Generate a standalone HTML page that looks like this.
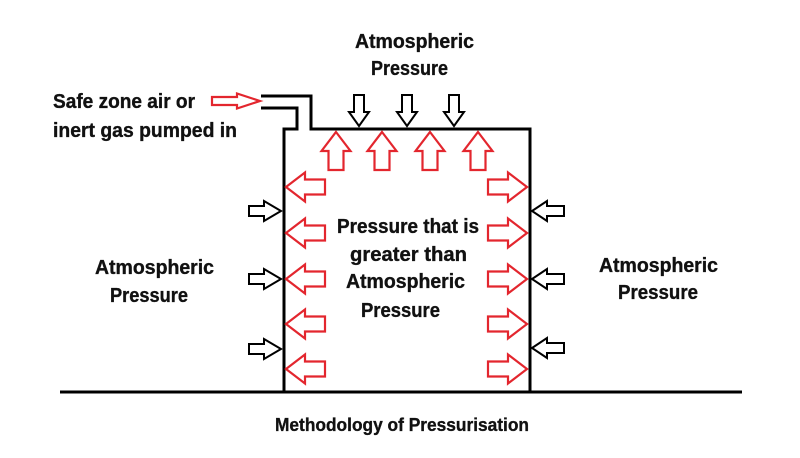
<!DOCTYPE html>
<html>
<head>
<meta charset="utf-8">
<style>
  html, body { margin: 0; padding: 0; background: #ffffff; }
  svg { display: block; }
  text { font-family: "Liberation Sans", Arial, sans-serif; font-weight: bold; fill: #111; stroke: #111; stroke-width: 0.35px; font-size: 20px; }
</style>
</head>
<body>
<svg width="800" height="458" viewBox="0 0 800 458" xmlns="http://www.w3.org/2000/svg">
  <rect width="800" height="458" fill="#fff"/>

  <!-- Structure -->
  <g fill="none" stroke="#000" stroke-width="3" stroke-linejoin="miter">
    <path d="M261,96 H311 V129 H530 V392"/>
    <path d="M261,108 H297 V129 H284 V392"/>
    <path d="M60,392 H742"/>
  </g>

  <!-- Red arrows -->
  <g fill="#fff" stroke="#e3262e" stroke-width="2.2" stroke-linejoin="miter">
    <polygon points="336,132 350.5,151 343.5,151 343.5,170 328.5,170 328.5,151 321.5,151"/>
    <polygon points="382,132 396.5,151 389.5,151 389.5,170 374.5,170 374.5,151 367.5,151"/>
    <polygon points="430,132 444.5,151 437.5,151 437.5,170 422.5,170 422.5,151 415.5,151"/>
    <polygon points="478,132 492.5,151 485.5,151 485.5,170 470.5,170 470.5,151 463.5,151"/>

    <polygon points="286,187 305,172.5 305,179.5 325,179.5 325,194.5 305,194.5 305,201.5"/>
    <polygon points="286,233 305,218.5 305,225.5 325,225.5 325,240.5 305,240.5 305,247.5"/>
    <polygon points="286,279 305,264.5 305,271.5 325,271.5 325,286.5 305,286.5 305,293.5"/>
    <polygon points="286,324 305,309.5 305,316.5 325,316.5 325,331.5 305,331.5 305,338.5"/>
    <polygon points="286,369 305,354.5 305,361.5 325,361.5 325,376.5 305,376.5 305,383.5"/>

    <polygon points="527,187 508,172.5 508,179.5 488,179.5 488,194.5 508,194.5 508,201.5"/>
    <polygon points="527,233 508,218.5 508,225.5 488,225.5 488,240.5 508,240.5 508,247.5"/>
    <polygon points="527,279 508,264.5 508,271.5 488,271.5 488,286.5 508,286.5 508,293.5"/>
    <polygon points="527,324 508,309.5 508,316.5 488,316.5 488,331.5 508,331.5 508,338.5"/>
    <polygon points="527,369 508,354.5 508,361.5 488,361.5 488,376.5 508,376.5 508,383.5"/>

    <polygon points="260,101 237,93.5 237,97 212,97 212,105 237,105 237,108.5"/>
  </g>

  <!-- Black arrows -->
  <g fill="#fff" stroke="#000" stroke-width="2" stroke-linejoin="miter">
    <polygon points="359,126 369,112 364,112 364,95 354,95 354,112 349,112"/>
    <polygon points="407,126 417,112 412,112 412,95 402,95 402,112 397,112"/>
    <polygon points="454,126 464,112 459,112 459,95 449,95 449,112 444,112"/>
    <polygon points="281,211 264,201 264,206 249,206 249,216 264,216 264,221"/>
    <polygon points="281,279 264,269 264,274 249,274 249,284 264,284 264,289"/>
    <polygon points="281,349 264,339 264,344 249,344 249,354 264,354 264,359"/>
    <polygon points="532,211 547,201 547,206 564,206 564,216 547,216 547,221"/>
    <polygon points="532,279 547,269 547,274 564,274 564,284 547,284 547,289"/>
    <polygon points="532,348 547,338 547,343 564,343 564,353 547,353 547,358"/>
  </g>

  <!-- Labels -->
  <text x="355" y="48" textLength="119" lengthAdjust="spacingAndGlyphs">Atmospheric</text>
  <text x="371" y="75" textLength="77" lengthAdjust="spacingAndGlyphs">Pressure</text>

  <text x="53" y="108" textLength="142" lengthAdjust="spacingAndGlyphs">Safe zone air or</text>
  <text x="53" y="137" textLength="184" lengthAdjust="spacingAndGlyphs">inert gas pumped in</text>

  <text x="95" y="274" textLength="119" lengthAdjust="spacingAndGlyphs">Atmospheric</text>
  <text x="110" y="302" textLength="78" lengthAdjust="spacingAndGlyphs">Pressure</text>

  <text x="599" y="272" textLength="119" lengthAdjust="spacingAndGlyphs">Atmospheric</text>
  <text x="618" y="299" textLength="80" lengthAdjust="spacingAndGlyphs">Pressure</text>

  <text x="337" y="233" textLength="142" lengthAdjust="spacingAndGlyphs">Pressure that is</text>
  <text x="350" y="261" textLength="117" lengthAdjust="spacingAndGlyphs">greater than</text>
  <text x="346" y="288" textLength="119" lengthAdjust="spacingAndGlyphs">Atmospheric</text>
  <text x="361" y="317" textLength="79" lengthAdjust="spacingAndGlyphs">Pressure</text>

  <text x="275" y="431" style="font-size:18px" textLength="254" lengthAdjust="spacingAndGlyphs">Methodology of Pressurisation</text>
</svg>
</body>
</html>
